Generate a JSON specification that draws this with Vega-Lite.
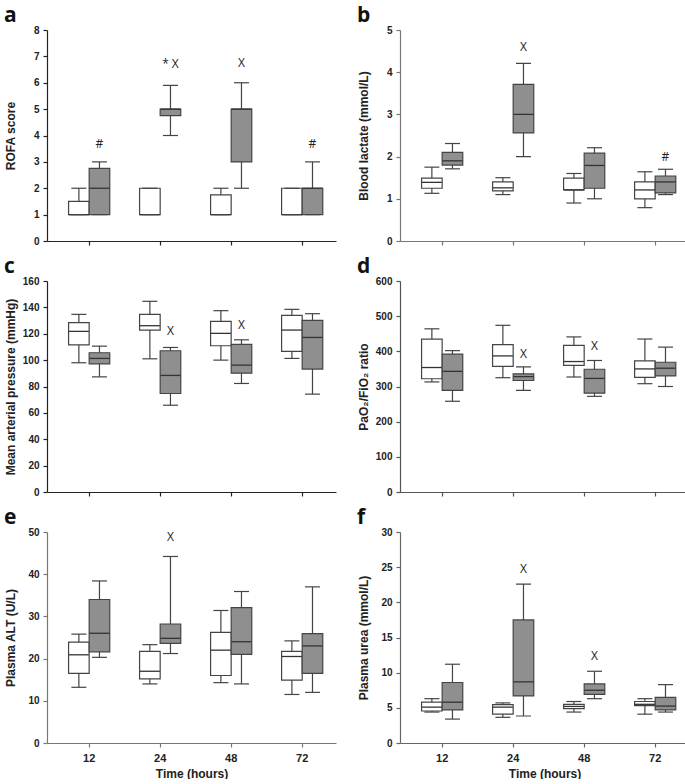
{
  "$schema": "https://vega.github.io/schema/vega-lite/v6.json",
  "padding": {"left": 3, "top": 5, "right": 0, "bottom": 0},
  "background": "white",
  "datasets": {
    "boxes": [
      {"panel": "a", "time": 12, "group": "white", "low": 1, "q1": 1, "med": 1, "q3": 1.5, "high": 2},
      {"panel": "a", "time": 12, "group": "gray", "low": 1, "q1": 1, "med": 2, "q3": 2.75, "high": 3},
      {"panel": "a", "time": 24, "group": "white", "low": 1, "q1": 1, "med": 1, "q3": 2, "high": 2},
      {"panel": "a", "time": 24, "group": "gray", "low": 4, "q1": 4.75, "med": 5, "q3": 5, "high": 5.9},
      {"panel": "a", "time": 48, "group": "white", "low": 1, "q1": 1, "med": 1, "q3": 1.75, "high": 2},
      {"panel": "a", "time": 48, "group": "gray", "low": 2, "q1": 3, "med": 5, "q3": 5, "high": 6},
      {"panel": "a", "time": 72, "group": "white", "low": 1, "q1": 1, "med": 1, "q3": 2, "high": 2},
      {"panel": "a", "time": 72, "group": "gray", "low": 1, "q1": 1, "med": 2, "q3": 2, "high": 3},
      {"panel": "b", "time": 12, "group": "white", "low": 1.13, "q1": 1.25, "med": 1.39, "q3": 1.49, "high": 1.75},
      {"panel": "b", "time": 12, "group": "gray", "low": 1.71, "q1": 1.8, "med": 1.9, "q3": 2.1, "high": 2.31},
      {"panel": "b", "time": 24, "group": "white", "low": 1.1, "q1": 1.19, "med": 1.26, "q3": 1.4, "high": 1.5},
      {"panel": "b", "time": 24, "group": "gray", "low": 2.0, "q1": 2.56, "med": 3.0, "q3": 3.71, "high": 4.21},
      {"panel": "b", "time": 48, "group": "white", "low": 0.9, "q1": 1.21, "med": 1.21, "q3": 1.49, "high": 1.6},
      {"panel": "b", "time": 48, "group": "gray", "low": 1.0, "q1": 1.25, "med": 1.79, "q3": 2.08, "high": 2.21},
      {"panel": "b", "time": 72, "group": "white", "low": 0.79, "q1": 1.0, "med": 1.21, "q3": 1.4, "high": 1.64},
      {"panel": "b", "time": 72, "group": "gray", "low": 1.1, "q1": 1.14, "med": 1.4, "q3": 1.54, "high": 1.7},
      {"panel": "c", "time": 12, "group": "white", "low": 98, "q1": 111.6, "med": 121.8, "q3": 128.4, "high": 134.7},
      {"panel": "c", "time": 12, "group": "gray", "low": 87.3, "q1": 97.2, "med": 101.3, "q3": 105.6, "high": 110.6},
      {"panel": "c", "time": 24, "group": "white", "low": 101, "q1": 122.8, "med": 126.1, "q3": 134.7, "high": 144.6},
      {"panel": "c", "time": 24, "group": "gray", "low": 65.8, "q1": 74.7, "med": 88.4, "q3": 107.1, "high": 109.6},
      {"panel": "c", "time": 48, "group": "white", "low": 100, "q1": 110.9, "med": 120.3, "q3": 129.4, "high": 137.5},
      {"panel": "c", "time": 48, "group": "gray", "low": 82.3, "q1": 90.1, "med": 96.2, "q3": 111.9, "high": 115.4},
      {"panel": "c", "time": 72, "group": "white", "low": 101.3, "q1": 106.6, "med": 122.8, "q3": 133.9, "high": 138.5},
      {"panel": "c", "time": 72, "group": "gray", "low": 74.2, "q1": 93.2, "med": 117.2, "q3": 130.1, "high": 135.2},
      {"panel": "d", "time": 12, "group": "white", "low": 313, "q1": 322, "med": 354, "q3": 435, "high": 464},
      {"panel": "d", "time": 12, "group": "gray", "low": 258, "q1": 289, "med": 343, "q3": 392, "high": 402},
      {"panel": "d", "time": 24, "group": "white", "low": 325, "q1": 357, "med": 387, "q3": 419, "high": 474},
      {"panel": "d", "time": 24, "group": "gray", "low": 289, "q1": 317, "med": 328, "q3": 336, "high": 356},
      {"panel": "d", "time": 48, "group": "white", "low": 327, "q1": 360, "med": 371, "q3": 417, "high": 441},
      {"panel": "d", "time": 48, "group": "gray", "low": 272, "q1": 281, "med": 323, "q3": 349, "high": 374},
      {"panel": "d", "time": 72, "group": "white", "low": 308, "q1": 326, "med": 350, "q3": 373, "high": 435},
      {"panel": "d", "time": 72, "group": "gray", "low": 300, "q1": 330, "med": 352, "q3": 369, "high": 412},
      {"panel": "e", "time": 12, "group": "white", "low": 13.2, "q1": 16.5, "med": 20.9, "q3": 23.9, "high": 25.8},
      {"panel": "e", "time": 12, "group": "gray", "low": 20.3, "q1": 21.6, "med": 26.0, "q3": 34.0, "high": 38.4},
      {"panel": "e", "time": 24, "group": "white", "low": 14.0, "q1": 15.2, "med": 17.0, "q3": 21.7, "high": 23.3},
      {"panel": "e", "time": 24, "group": "gray", "low": 21.2, "q1": 23.6, "med": 24.8, "q3": 28.2, "high": 44.2},
      {"panel": "e", "time": 48, "group": "white", "low": 14.3, "q1": 16.0, "med": 22.0, "q3": 26.2, "high": 31.4},
      {"panel": "e", "time": 48, "group": "gray", "low": 14.0, "q1": 21.0, "med": 24.0, "q3": 32.1, "high": 35.9},
      {"panel": "e", "time": 72, "group": "white", "low": 11.5, "q1": 14.9, "med": 20.5, "q3": 21.7, "high": 24.2},
      {"panel": "e", "time": 72, "group": "gray", "low": 12.0, "q1": 16.5, "med": 23.0, "q3": 25.9, "high": 37.0},
      {"panel": "f", "time": 12, "group": "white", "low": 4.4, "q1": 4.55, "med": 5.1, "q3": 5.8, "high": 6.3},
      {"panel": "f", "time": 12, "group": "gray", "low": 3.4, "q1": 4.7, "med": 5.8, "q3": 8.6, "high": 11.2},
      {"panel": "f", "time": 24, "group": "white", "low": 3.65, "q1": 4.1, "med": 5.1, "q3": 5.45, "high": 5.7},
      {"panel": "f", "time": 24, "group": "gray", "low": 3.84, "q1": 6.7, "med": 8.7, "q3": 17.5, "high": 22.6},
      {"panel": "f", "time": 48, "group": "white", "low": 4.4, "q1": 4.9, "med": 5.2, "q3": 5.5, "high": 5.9},
      {"panel": "f", "time": 48, "group": "gray", "low": 6.3, "q1": 6.9, "med": 7.5, "q3": 8.4, "high": 10.2},
      {"panel": "f", "time": 72, "group": "white", "low": 4.1, "q1": 5.3, "med": 5.5, "q3": 5.9, "high": 6.3},
      {"panel": "f", "time": 72, "group": "gray", "low": 4.4, "q1": 4.7, "med": 5.25, "q3": 6.5, "high": 8.3}
    ],
    "notes": [
      {"panel": "a", "time": 12, "group": "gray", "y": 3.67, "label": "#"},
      {"panel": "a", "time": 24, "group": "gray", "y": 6.7, "label": "* X"},
      {"panel": "a", "time": 48, "group": "gray", "y": 6.74, "label": "X"},
      {"panel": "a", "time": 72, "group": "gray", "y": 3.67, "label": "#"},
      {"panel": "b", "time": 24, "group": "gray", "y": 4.6, "label": "X"},
      {"panel": "b", "time": 72, "group": "gray", "y": 2.0, "label": "#"},
      {"panel": "c", "time": 24, "group": "gray", "y": 122.3, "label": "X"},
      {"panel": "c", "time": 48, "group": "gray", "y": 127, "label": "X"},
      {"panel": "d", "time": 24, "group": "gray", "y": 393, "label": "X"},
      {"panel": "d", "time": 48, "group": "gray", "y": 414, "label": "X"},
      {"panel": "e", "time": 24, "group": "gray", "y": 48.8, "label": "X"},
      {"panel": "f", "time": 24, "group": "gray", "y": 24.7, "label": "X"},
      {"panel": "f", "time": 48, "group": "gray", "y": 12.4, "label": "X"}
    ]
  },
  "columns": 2,
  "bounds": "flush",
  "spacing": {"row": 40, "column": 64},
  "concat": [
    {
      "title": {"text": "a"},
      "width": 289, "height": 211,
      "encoding": {
        "x": {"field": "time", "type": "ordinal", "scale": {"domain": [12, 24, 48, 72], "paddingInner": 0.42, "paddingOuter": 0.245, "align": 0.62}, "axis": {"labels": false, "title": null}},
        "xOffset": {"field": "group", "type": "nominal", "scale": {"domain": ["white", "gray"]}}
      },
      "layer": [
        {"data": {"name": "boxes"}, "transform": [{"filter": "datum.panel == 'a'"}],
         "mark": {"type": "rule", "color": "#444", "strokeWidth": 1.2},
         "encoding": {
           "y": {"field": "low", "type": "quantitative", "scale": {"domain": [0, 8], "nice": false}, "axis": {"values": [0, 1, 2, 3, 4, 5, 6, 7, 8], "title": "ROFA score"}},
           "y2": {"field": "high"}}},
        {"data": {"name": "boxes"}, "transform": [{"filter": "datum.panel == 'a'"}],
         "mark": {"type": "bar", "stroke": "#444", "strokeWidth": 1.2},
         "encoding": {"y": {"field": "q1", "type": "quantitative", "axis": {"values": [0, 1, 2, 3, 4, 5, 6, 7, 8], "title": "ROFA score"}}, "y2": {"field": "q3"},
           "fill": {"field": "group", "type": "nominal", "scale": {"domain": ["white", "gray"], "range": ["#ffffff", "#8f8f8f"]}, "legend": null}}},
        {"data": {"name": "boxes"}, "transform": [{"filter": "datum.panel == 'a'"}],
         "mark": {"type": "tick", "color": "#333", "size": 20, "thickness": 1.3, "opacity": 1},
         "encoding": {"y": {"field": "med", "type": "quantitative", "axis": {"values": [0, 1, 2, 3, 4, 5, 6, 7, 8], "title": "ROFA score"}}}},
        {"data": {"name": "boxes"}, "transform": [{"filter": "datum.panel == 'a'"}],
         "mark": {"type": "tick", "color": "#444", "size": 15, "thickness": 1.2, "opacity": 1},
         "encoding": {"y": {"field": "low", "type": "quantitative", "axis": {"values": [0, 1, 2, 3, 4, 5, 6, 7, 8], "title": "ROFA score"}}}},
        {"data": {"name": "boxes"}, "transform": [{"filter": "datum.panel == 'a'"}],
         "mark": {"type": "tick", "color": "#444", "size": 15, "thickness": 1.2, "opacity": 1},
         "encoding": {"y": {"field": "high", "type": "quantitative", "axis": {"values": [0, 1, 2, 3, 4, 5, 6, 7, 8], "title": "ROFA score"}}}},
        {"data": {"name": "notes"}, "transform": [{"filter": "datum.panel == 'a'"}],
         "mark": {"type": "text", "font": "Open Sans", "fontSize": 12, "color": "#222"},
         "encoding": {"y": {"field": "y", "type": "quantitative", "axis": {"values": [0, 1, 2, 3, 4, 5, 6, 7, 8], "title": "ROFA score"}}, "text": {"field": "label"}}}
      ]
    },
    {
      "title": {"text": "b"},
      "width": 289, "height": 211,
      "encoding": {
        "x": {"field": "time", "type": "ordinal", "scale": {"domain": [12, 24, 48, 72], "paddingInner": 0.42, "paddingOuter": 0.245, "align": 0.62}, "axis": {"labels": false, "title": null, "domainColor": "#777", "tickColor": "#777"}},
        "xOffset": {"field": "group", "type": "nominal", "scale": {"domain": ["white", "gray"]}}
      },
      "layer": [
        {"data": {"name": "boxes"}, "transform": [{"filter": "datum.panel == 'b'"}],
         "mark": {"type": "rule", "color": "#444", "strokeWidth": 1.2},
         "encoding": {
           "y": {"field": "low", "type": "quantitative", "scale": {"domain": [0, 5], "nice": false}, "axis": {"values": [0, 1, 2, 3, 4, 5], "title": "Blood lactate (mmol/L)", "domainColor": "#777", "tickColor": "#777"}},
           "y2": {"field": "high"}}},
        {"data": {"name": "boxes"}, "transform": [{"filter": "datum.panel == 'b'"}],
         "mark": {"type": "bar", "stroke": "#444", "strokeWidth": 1.2},
         "encoding": {"y": {"field": "q1", "type": "quantitative", "axis": {"values": [0, 1, 2, 3, 4, 5], "title": "Blood lactate (mmol/L)", "domainColor": "#777", "tickColor": "#777"}}, "y2": {"field": "q3"},
           "fill": {"field": "group", "type": "nominal", "scale": {"domain": ["white", "gray"], "range": ["#ffffff", "#8f8f8f"]}, "legend": null}}},
        {"data": {"name": "boxes"}, "transform": [{"filter": "datum.panel == 'b'"}],
         "mark": {"type": "tick", "color": "#333", "size": 20, "thickness": 1.3, "opacity": 1},
         "encoding": {"y": {"field": "med", "type": "quantitative", "axis": {"values": [0, 1, 2, 3, 4, 5], "title": "Blood lactate (mmol/L)", "domainColor": "#777", "tickColor": "#777"}}}},
        {"data": {"name": "boxes"}, "transform": [{"filter": "datum.panel == 'b'"}],
         "mark": {"type": "tick", "color": "#444", "size": 15, "thickness": 1.2, "opacity": 1},
         "encoding": {"y": {"field": "low", "type": "quantitative", "axis": {"values": [0, 1, 2, 3, 4, 5], "title": "Blood lactate (mmol/L)", "domainColor": "#777", "tickColor": "#777"}}}},
        {"data": {"name": "boxes"}, "transform": [{"filter": "datum.panel == 'b'"}],
         "mark": {"type": "tick", "color": "#444", "size": 15, "thickness": 1.2, "opacity": 1},
         "encoding": {"y": {"field": "high", "type": "quantitative", "axis": {"values": [0, 1, 2, 3, 4, 5], "title": "Blood lactate (mmol/L)", "domainColor": "#777", "tickColor": "#777"}}}},
        {"data": {"name": "notes"}, "transform": [{"filter": "datum.panel == 'b'"}],
         "mark": {"type": "text", "font": "Open Sans", "fontSize": 12, "color": "#222"},
         "encoding": {"y": {"field": "y", "type": "quantitative", "axis": {"values": [0, 1, 2, 3, 4, 5], "title": "Blood lactate (mmol/L)", "domainColor": "#777", "tickColor": "#777"}}, "text": {"field": "label"}}}
      ]
    },
    {
      "title": {"text": "c"},
      "width": 289, "height": 211,
      "encoding": {
        "x": {"field": "time", "type": "ordinal", "scale": {"domain": [12, 24, 48, 72], "paddingInner": 0.42, "paddingOuter": 0.245, "align": 0.62}, "axis": {"labels": false, "title": null}},
        "xOffset": {"field": "group", "type": "nominal", "scale": {"domain": ["white", "gray"]}}
      },
      "layer": [
        {"data": {"name": "boxes"}, "transform": [{"filter": "datum.panel == 'c'"}],
         "mark": {"type": "rule", "color": "#444", "strokeWidth": 1.2},
         "encoding": {
           "y": {"field": "low", "type": "quantitative", "scale": {"domain": [0, 160], "nice": false}, "axis": {"values": [0, 20, 40, 60, 80, 100, 120, 140, 160], "title": "Mean arterial pressure (mmHg)"}},
           "y2": {"field": "high"}}},
        {"data": {"name": "boxes"}, "transform": [{"filter": "datum.panel == 'c'"}],
         "mark": {"type": "bar", "stroke": "#444", "strokeWidth": 1.2},
         "encoding": {"y": {"field": "q1", "type": "quantitative", "axis": {"values": [0, 20, 40, 60, 80, 100, 120, 140, 160], "title": "Mean arterial pressure (mmHg)"}}, "y2": {"field": "q3"},
           "fill": {"field": "group", "type": "nominal", "scale": {"domain": ["white", "gray"], "range": ["#ffffff", "#8f8f8f"]}, "legend": null}}},
        {"data": {"name": "boxes"}, "transform": [{"filter": "datum.panel == 'c'"}],
         "mark": {"type": "tick", "color": "#333", "size": 20, "thickness": 1.3, "opacity": 1},
         "encoding": {"y": {"field": "med", "type": "quantitative", "axis": {"values": [0, 20, 40, 60, 80, 100, 120, 140, 160], "title": "Mean arterial pressure (mmHg)"}}}},
        {"data": {"name": "boxes"}, "transform": [{"filter": "datum.panel == 'c'"}],
         "mark": {"type": "tick", "color": "#444", "size": 15, "thickness": 1.2, "opacity": 1},
         "encoding": {"y": {"field": "low", "type": "quantitative", "axis": {"values": [0, 20, 40, 60, 80, 100, 120, 140, 160], "title": "Mean arterial pressure (mmHg)"}}}},
        {"data": {"name": "boxes"}, "transform": [{"filter": "datum.panel == 'c'"}],
         "mark": {"type": "tick", "color": "#444", "size": 15, "thickness": 1.2, "opacity": 1},
         "encoding": {"y": {"field": "high", "type": "quantitative", "axis": {"values": [0, 20, 40, 60, 80, 100, 120, 140, 160], "title": "Mean arterial pressure (mmHg)"}}}},
        {"data": {"name": "notes"}, "transform": [{"filter": "datum.panel == 'c'"}],
         "mark": {"type": "text", "font": "Open Sans", "fontSize": 12, "color": "#222"},
         "encoding": {"y": {"field": "y", "type": "quantitative", "axis": {"values": [0, 20, 40, 60, 80, 100, 120, 140, 160], "title": "Mean arterial pressure (mmHg)"}}, "text": {"field": "label"}}}
      ]
    },
    {
      "title": {"text": "d"},
      "width": 289, "height": 211,
      "encoding": {
        "x": {"field": "time", "type": "ordinal", "scale": {"domain": [12, 24, 48, 72], "paddingInner": 0.42, "paddingOuter": 0.245, "align": 0.62}, "axis": {"labels": false, "title": null, "domainColor": "#555", "tickColor": "#555"}},
        "xOffset": {"field": "group", "type": "nominal", "scale": {"domain": ["white", "gray"]}}
      },
      "layer": [
        {"data": {"name": "boxes"}, "transform": [{"filter": "datum.panel == 'd'"}],
         "mark": {"type": "rule", "color": "#444", "strokeWidth": 1.2},
         "encoding": {
           "y": {"field": "low", "type": "quantitative", "scale": {"domain": [0, 600], "nice": false}, "axis": {"values": [0, 100, 200, 300, 400, 500, 600], "title": "PaO₂/FiO₂ ratio", "domainColor": "#555", "tickColor": "#555"}},
           "y2": {"field": "high"}}},
        {"data": {"name": "boxes"}, "transform": [{"filter": "datum.panel == 'd'"}],
         "mark": {"type": "bar", "stroke": "#444", "strokeWidth": 1.2},
         "encoding": {"y": {"field": "q1", "type": "quantitative", "axis": {"values": [0, 100, 200, 300, 400, 500, 600], "title": "PaO₂/FiO₂ ratio", "domainColor": "#555", "tickColor": "#555"}}, "y2": {"field": "q3"},
           "fill": {"field": "group", "type": "nominal", "scale": {"domain": ["white", "gray"], "range": ["#ffffff", "#8f8f8f"]}, "legend": null}}},
        {"data": {"name": "boxes"}, "transform": [{"filter": "datum.panel == 'd'"}],
         "mark": {"type": "tick", "color": "#333", "size": 20, "thickness": 1.3, "opacity": 1},
         "encoding": {"y": {"field": "med", "type": "quantitative", "axis": {"values": [0, 100, 200, 300, 400, 500, 600], "title": "PaO₂/FiO₂ ratio", "domainColor": "#555", "tickColor": "#555"}}}},
        {"data": {"name": "boxes"}, "transform": [{"filter": "datum.panel == 'd'"}],
         "mark": {"type": "tick", "color": "#444", "size": 15, "thickness": 1.2, "opacity": 1},
         "encoding": {"y": {"field": "low", "type": "quantitative", "axis": {"values": [0, 100, 200, 300, 400, 500, 600], "title": "PaO₂/FiO₂ ratio", "domainColor": "#555", "tickColor": "#555"}}}},
        {"data": {"name": "boxes"}, "transform": [{"filter": "datum.panel == 'd'"}],
         "mark": {"type": "tick", "color": "#444", "size": 15, "thickness": 1.2, "opacity": 1},
         "encoding": {"y": {"field": "high", "type": "quantitative", "axis": {"values": [0, 100, 200, 300, 400, 500, 600], "title": "PaO₂/FiO₂ ratio", "domainColor": "#555", "tickColor": "#555"}}}},
        {"data": {"name": "notes"}, "transform": [{"filter": "datum.panel == 'd'"}],
         "mark": {"type": "text", "font": "Open Sans", "fontSize": 12, "color": "#222"},
         "encoding": {"y": {"field": "y", "type": "quantitative", "axis": {"values": [0, 100, 200, 300, 400, 500, 600], "title": "PaO₂/FiO₂ ratio", "domainColor": "#555", "tickColor": "#555"}}, "text": {"field": "label"}}}
      ]
    },
    {
      "title": {"text": "e"},
      "width": 289, "height": 211,
      "encoding": {
        "x": {"field": "time", "type": "ordinal", "scale": {"domain": [12, 24, 48, 72], "paddingInner": 0.42, "paddingOuter": 0.245, "align": 0.62}, "axis": {"title": "Time (hours)", "domainColor": "#777", "tickColor": "#777"}},
        "xOffset": {"field": "group", "type": "nominal", "scale": {"domain": ["white", "gray"]}}
      },
      "layer": [
        {"data": {"name": "boxes"}, "transform": [{"filter": "datum.panel == 'e'"}],
         "mark": {"type": "rule", "color": "#444", "strokeWidth": 1.2},
         "encoding": {
           "y": {"field": "low", "type": "quantitative", "scale": {"domain": [0, 50], "nice": false}, "axis": {"values": [0, 10, 20, 30, 40, 50], "title": "Plasma ALT (U/L)", "domainColor": "#777", "tickColor": "#777"}},
           "y2": {"field": "high"}}},
        {"data": {"name": "boxes"}, "transform": [{"filter": "datum.panel == 'e'"}],
         "mark": {"type": "bar", "stroke": "#444", "strokeWidth": 1.2},
         "encoding": {"y": {"field": "q1", "type": "quantitative", "axis": {"values": [0, 10, 20, 30, 40, 50], "title": "Plasma ALT (U/L)", "domainColor": "#777", "tickColor": "#777"}}, "y2": {"field": "q3"},
           "fill": {"field": "group", "type": "nominal", "scale": {"domain": ["white", "gray"], "range": ["#ffffff", "#8f8f8f"]}, "legend": null}}},
        {"data": {"name": "boxes"}, "transform": [{"filter": "datum.panel == 'e'"}],
         "mark": {"type": "tick", "color": "#333", "size": 20, "thickness": 1.3, "opacity": 1},
         "encoding": {"y": {"field": "med", "type": "quantitative", "axis": {"values": [0, 10, 20, 30, 40, 50], "title": "Plasma ALT (U/L)", "domainColor": "#777", "tickColor": "#777"}}}},
        {"data": {"name": "boxes"}, "transform": [{"filter": "datum.panel == 'e'"}],
         "mark": {"type": "tick", "color": "#444", "size": 15, "thickness": 1.2, "opacity": 1},
         "encoding": {"y": {"field": "low", "type": "quantitative", "axis": {"values": [0, 10, 20, 30, 40, 50], "title": "Plasma ALT (U/L)", "domainColor": "#777", "tickColor": "#777"}}}},
        {"data": {"name": "boxes"}, "transform": [{"filter": "datum.panel == 'e'"}],
         "mark": {"type": "tick", "color": "#444", "size": 15, "thickness": 1.2, "opacity": 1},
         "encoding": {"y": {"field": "high", "type": "quantitative", "axis": {"values": [0, 10, 20, 30, 40, 50], "title": "Plasma ALT (U/L)", "domainColor": "#777", "tickColor": "#777"}}}},
        {"data": {"name": "notes"}, "transform": [{"filter": "datum.panel == 'e'"}],
         "mark": {"type": "text", "font": "Open Sans", "fontSize": 12, "color": "#222"},
         "encoding": {"y": {"field": "y", "type": "quantitative", "axis": {"values": [0, 10, 20, 30, 40, 50], "title": "Plasma ALT (U/L)", "domainColor": "#777", "tickColor": "#777"}}, "text": {"field": "label"}}}
      ]
    },
    {
      "title": {"text": "f"},
      "width": 289, "height": 211,
      "encoding": {
        "x": {"field": "time", "type": "ordinal", "scale": {"domain": [12, 24, 48, 72], "paddingInner": 0.42, "paddingOuter": 0.245, "align": 0.62}, "axis": {"title": "Time (hours)", "domainColor": "#666", "tickColor": "#666"}},
        "xOffset": {"field": "group", "type": "nominal", "scale": {"domain": ["white", "gray"]}}
      },
      "layer": [
        {"data": {"name": "boxes"}, "transform": [{"filter": "datum.panel == 'f'"}],
         "mark": {"type": "rule", "color": "#444", "strokeWidth": 1.2},
         "encoding": {
           "y": {"field": "low", "type": "quantitative", "scale": {"domain": [0, 30], "nice": false}, "axis": {"values": [0, 5, 10, 15, 20, 25, 30], "title": "Plasma urea (mmol/L)", "domainColor": "#666", "tickColor": "#666"}},
           "y2": {"field": "high"}}},
        {"data": {"name": "boxes"}, "transform": [{"filter": "datum.panel == 'f'"}],
         "mark": {"type": "bar", "stroke": "#444", "strokeWidth": 1.2},
         "encoding": {"y": {"field": "q1", "type": "quantitative", "axis": {"values": [0, 5, 10, 15, 20, 25, 30], "title": "Plasma urea (mmol/L)", "domainColor": "#666", "tickColor": "#666"}}, "y2": {"field": "q3"},
           "fill": {"field": "group", "type": "nominal", "scale": {"domain": ["white", "gray"], "range": ["#ffffff", "#8f8f8f"]}, "legend": null}}},
        {"data": {"name": "boxes"}, "transform": [{"filter": "datum.panel == 'f'"}],
         "mark": {"type": "tick", "color": "#333", "size": 20, "thickness": 1.3, "opacity": 1},
         "encoding": {"y": {"field": "med", "type": "quantitative", "axis": {"values": [0, 5, 10, 15, 20, 25, 30], "title": "Plasma urea (mmol/L)", "domainColor": "#666", "tickColor": "#666"}}}},
        {"data": {"name": "boxes"}, "transform": [{"filter": "datum.panel == 'f'"}],
         "mark": {"type": "tick", "color": "#444", "size": 15, "thickness": 1.2, "opacity": 1},
         "encoding": {"y": {"field": "low", "type": "quantitative", "axis": {"values": [0, 5, 10, 15, 20, 25, 30], "title": "Plasma urea (mmol/L)", "domainColor": "#666", "tickColor": "#666"}}}},
        {"data": {"name": "boxes"}, "transform": [{"filter": "datum.panel == 'f'"}],
         "mark": {"type": "tick", "color": "#444", "size": 15, "thickness": 1.2, "opacity": 1},
         "encoding": {"y": {"field": "high", "type": "quantitative", "axis": {"values": [0, 5, 10, 15, 20, 25, 30], "title": "Plasma urea (mmol/L)", "domainColor": "#666", "tickColor": "#666"}}}},
        {"data": {"name": "notes"}, "transform": [{"filter": "datum.panel == 'f'"}],
         "mark": {"type": "text", "font": "Open Sans", "fontSize": 12, "color": "#222"},
         "encoding": {"y": {"field": "y", "type": "quantitative", "axis": {"values": [0, 5, 10, 15, 20, 25, 30], "title": "Plasma urea (mmol/L)", "domainColor": "#666", "tickColor": "#666"}}, "text": {"field": "label"}}}
      ]
    }
  ],
  "config": {
    "view": {"stroke": null},
    "axis": {"grid": false, "domainColor": "#222", "tickColor": "#222", "domainWidth": 1.2, "tickWidth": 1.2, "tickSize": 4,
             "labelOverlap": false, "labelFlush": false,
             "labelFont": "Liberation Sans", "labelFontWeight": "bold", "labelFontSize": 10, "labelColor": "#222",
             "titleFont": "Liberation Sans", "titleFontWeight": "bold", "titleFontSize": 12, "titleColor": "#222"},
    "axisX": {"labelAngle": 0, "labelFontSize": 11, "labelPadding": 5, "titlePadding": 5},
    "axisY": {"labelPadding": 4, "titleX": -30},
    "title": {"font": "Open Sans", "fontSize": 21, "fontWeight": "bold", "anchor": "start", "frame": "bounds", "color": "#111", "offset": -1}
  }
}
